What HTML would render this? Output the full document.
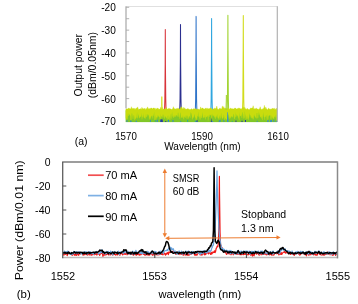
<!DOCTYPE html>
<html><head><meta charset="utf-8"><title>spectra</title>
<style>html,body{margin:0;padding:0;background:#fff;}body{width:358px;height:304px;overflow:hidden;font-family:"Liberation Sans",sans-serif;}svg{display:block;position:absolute;left:0;top:0;will-change:transform;}text{font-family:"Liberation Sans",sans-serif;fill:#000;}</style>
</head><body>
<svg width="358" height="304" viewBox="0 0 358 304">
<rect x="0" y="0" width="358" height="304" fill="#fff"/>
<path d="M164.5 112 L164.85 99 L165.18 64.6 L165.3 29.6 L165.42 64.6 L165.75 99 L166.1 112" fill="none" stroke="#d8343a" stroke-width="1.05" stroke-linejoin="round"/>
<path d="M179.7 112 L180.05 99 L180.38 59.6 L180.5 24.6 L180.62 59.6 L180.95 99 L181.3 112" fill="none" stroke="#2b2f8f" stroke-width="1.05" stroke-linejoin="round"/>
<path d="M195.3 112 L195.65 99 L195.98 51.4 L196.1 16.4 L196.22 51.4 L196.55 99 L196.9 112" fill="none" stroke="#2f74c9" stroke-width="1.05" stroke-linejoin="round"/>
<path d="M210.8 112 L211.15 99 L211.48 53.5 L211.6 18.5 L211.72 53.5 L212.05 99 L212.4 112" fill="none" stroke="#2fa6df" stroke-width="1.05" stroke-linejoin="round"/>
<path d="M227.1 112 L227.45 99 L227.78 50.2 L227.9 15.2 L228.02 50.2 L228.35 99 L228.7 112" fill="none" stroke="#a2d432" stroke-width="1.05" stroke-linejoin="round"/>
<path d="M242.5 112 L242.85 99 L243.18 50.6 L243.3 15.6 L243.42 50.6 L243.75 99 L244.1 112" fill="none" stroke="#d2dc1c" stroke-width="1.05" stroke-linejoin="round"/>
<path d="M125.8 110.56 L126.5 111.33 L127.2 110.33 L127.9 109.83 L128.6 109.98 L129.3 109.82 L130 109.54 L130.7 109.58 L131.4 110.13 L132.1 110.05 L132.8 110.21 L133.5 110.26 L134.2 109.62 L134.9 110.76 L135.6 111.16 L136.3 110.16 L137 110.21 L137.7 109.41 L138.4 110.47 L139.1 109.44 L139.8 109.42 L140.5 109.71 L141.2 109.76 L141.9 109.7 L142.6 110.86 L143.3 110.7 L144 110.4 L144.7 110.02 L145.4 110.78 L146.1 109.41 L146.8 109.46 L147.5 111.29 L148.2 111.08 L148.9 110.81 L149.6 111.02 L150.3 109.68 L151 110.99 L151.7 111.18 L152.4 111.18 L153.1 111.31 L153.8 110.08 L154.5 110.5 L155.2 110.1 L155.9 109.96 L156.6 109.58 L157.3 109.9 L158 109.62 L158.7 111.2 L159.4 109.59 L160.1 111.18 L160.8 110.67 L161.5 110.32 L162.2 111.01 L162.9 109.95 L163.6 110.5 L164.3 110.07 L165 109.98 L165.7 111.19 L166.4 109.51 L167.1 109.53 L167.8 109.64 L168.5 110.14 L169.2 110.73 L169.9 110.77 L170.6 110.73 L171.3 109.66 L172 110.04 L172.7 110.87 L173.4 110.27 L174.1 109.99 L174.8 109.5 L175.5 110.88 L176.2 110.73 L176.9 110.82 L177.6 110.95 L178.3 111.37 L179 109.52 L179.7 110.3 L180.4 110.63 L181.1 110.89 L181.8 109.52 L182.5 109.93 L183.2 110.78 L183.9 111 L184.6 110.86 L185.3 110.83 L186 109.93 L186.7 109.83 L187.4 109.59 L188.1 109.78 L188.8 110.86 L189.5 110.73 L190.2 110.3 L190.9 109.78 L191.6 110.83 L192.3 110.42 L193 110.59 L193.7 110.07 L194.4 111.21 L195.1 110.36 L195.8 109.62 L196.5 110.62 L197.2 111.39 L197.9 111.39 L198.6 109.67 L199.3 109.98 L200 111.37 L200.7 109.87 L201.4 110.18 L202.1 109.7 L202.8 111.24 L203.5 111.27 L204.2 109.46 L204.9 111.2 L205.6 109.8 L206.3 109.73 L207 111.25 L207.7 110.92 L208.4 109.78 L209.1 109.85 L209.8 109.47 L210.5 109.66 L211.2 110.72 L211.9 110.76 L212.6 110.98 L213.3 110.63 L214 111.1 L214.7 110.74 L215.4 110.72 L216.1 111.11 L216.8 111.29 L217.5 109.51 L218.2 109.65 L218.9 111.07 L219.6 109.77 L220.3 110.99 L221 109.94 L221.7 110.86 L222.4 109.97 L223.1 110.92 L223.8 110.38 L224.5 110.24 L225.2 109.49 L225.9 110.83 L226.6 110.79 L227.3 110.65 L228 109.67 L228.7 109.89 L229.4 110.29 L230.1 109.6 L230.8 109.6 L231.5 111.17 L232.2 111.03 L232.9 109.73 L233.6 110.97 L234.3 111.11 L235 110.42 L235.7 110.88 L236.4 111.22 L237.1 110.88 L237.8 109.43 L238.5 110.83 L239.2 110.52 L239.9 110.53 L240.6 111.36 L241.3 110.86 L242 109.68 L242.7 111.05 L243.4 109.69 L244.1 110.01 L244.8 109.72 L245.5 110.99 L246.2 111.01 L246.9 109.9 L247.6 109.41 L248.3 109.71 L249 111.17 L249.7 110.84 L250.4 109.89 L251.1 110.04 L251.8 110.56 L252.5 111.17 L253.2 110.04 L253.9 109.99 L254.6 111.28 L255.3 109.72 L256 110.83 L256.7 109.62 L257.4 111.17 L258.1 109.9 L258.8 111.25 L259.5 109.61 L260.2 110.76 L260.9 111.15 L261.6 109.75 L262.3 110.59 L263 111.24 L263.7 110.63 L264.4 109.81 L265.1 111.12 L265.8 110.96 L266.5 109.51 L267.2 110.83 L267.9 111.14 L268.6 110.79 L269.3 109.7 L270 109.75 L270.7 110.92 L271.4 109.87 L272.1 110.04 L272.8 110.28 L273.5 109.48 L274.2 110.38 L274.9 110.13 L275.6 111.34 L276.3 110.98 L277 110 L277 121.9 L276.3 121.9 L275.6 121.9 L274.9 121.9 L274.2 121.9 L273.5 121.9 L272.8 121.9 L272.1 121.9 L271.4 121.9 L270.7 121.9 L270 121.9 L269.3 121.9 L268.6 121.9 L267.9 121.9 L267.2 121.9 L266.5 121.9 L265.8 121.9 L265.1 121.9 L264.4 121.9 L263.7 121.9 L263 121.9 L262.3 121.9 L261.6 121.9 L260.9 121.9 L260.2 121.9 L259.5 121.9 L258.8 121.9 L258.1 121.9 L257.4 121.9 L256.7 121.9 L256 121.9 L255.3 121.9 L254.6 121.9 L253.9 121.9 L253.2 121.9 L252.5 121.9 L251.8 121.9 L251.1 121.9 L250.4 121.9 L249.7 121.9 L249 121.9 L248.3 121.9 L247.6 121.9 L246.9 121.9 L246.2 121.9 L245.5 121.9 L244.8 121.9 L244.1 121.9 L243.4 121.9 L242.7 121.9 L242 121.9 L241.3 121.9 L240.6 121.9 L239.9 121.9 L239.2 121.9 L238.5 121.9 L237.8 121.9 L237.1 121.9 L236.4 121.9 L235.7 121.9 L235 121.9 L234.3 121.9 L233.6 121.9 L232.9 121.9 L232.2 121.9 L231.5 121.9 L230.8 121.9 L230.1 121.9 L229.4 121.9 L228.7 121.9 L228 121.9 L227.3 121.9 L226.6 121.9 L225.9 121.9 L225.2 121.9 L224.5 121.9 L223.8 121.9 L223.1 121.9 L222.4 121.9 L221.7 121.9 L221 121.9 L220.3 121.9 L219.6 121.9 L218.9 121.9 L218.2 121.9 L217.5 121.9 L216.8 121.9 L216.1 121.9 L215.4 121.9 L214.7 121.9 L214 121.9 L213.3 121.9 L212.6 121.9 L211.9 121.9 L211.2 121.9 L210.5 121.9 L209.8 121.9 L209.1 121.9 L208.4 121.9 L207.7 121.9 L207 121.9 L206.3 121.9 L205.6 121.9 L204.9 121.9 L204.2 121.9 L203.5 121.9 L202.8 121.9 L202.1 121.9 L201.4 121.9 L200.7 121.9 L200 121.9 L199.3 121.9 L198.6 121.9 L197.9 121.9 L197.2 121.9 L196.5 121.9 L195.8 121.9 L195.1 121.9 L194.4 121.9 L193.7 121.9 L193 121.9 L192.3 121.9 L191.6 121.9 L190.9 121.9 L190.2 121.9 L189.5 121.9 L188.8 121.9 L188.1 121.9 L187.4 121.9 L186.7 121.9 L186 121.9 L185.3 121.9 L184.6 121.9 L183.9 121.9 L183.2 121.9 L182.5 121.9 L181.8 121.9 L181.1 121.9 L180.4 121.9 L179.7 121.9 L179 121.9 L178.3 121.9 L177.6 121.9 L176.9 121.9 L176.2 121.9 L175.5 121.9 L174.8 121.9 L174.1 121.9 L173.4 121.9 L172.7 121.9 L172 121.9 L171.3 121.9 L170.6 121.9 L169.9 121.9 L169.2 121.9 L168.5 121.9 L167.8 121.9 L167.1 121.9 L166.4 121.9 L165.7 121.9 L165 121.9 L164.3 121.9 L163.6 121.9 L162.9 121.9 L162.2 121.9 L161.5 121.9 L160.8 121.9 L160.1 121.9 L159.4 121.9 L158.7 121.9 L158 121.9 L157.3 121.9 L156.6 121.9 L155.9 121.9 L155.2 121.9 L154.5 121.9 L153.8 121.9 L153.1 121.9 L152.4 121.9 L151.7 121.9 L151 121.9 L150.3 121.9 L149.6 121.9 L148.9 121.9 L148.2 121.9 L147.5 121.9 L146.8 121.9 L146.1 121.9 L145.4 121.9 L144.7 121.9 L144 121.9 L143.3 121.9 L142.6 121.9 L141.9 121.9 L141.2 121.9 L140.5 121.9 L139.8 121.9 L139.1 121.9 L138.4 121.9 L137.7 121.9 L137 121.9 L136.3 121.9 L135.6 121.9 L134.9 121.9 L134.2 121.9 L133.5 121.9 L132.8 121.9 L132.1 121.9 L131.4 121.9 L130.7 121.9 L130 121.9 L129.3 121.9 L128.6 121.9 L127.9 121.9 L127.2 121.9 L126.5 121.9 L125.8 121.9 Z" fill="#82c828" stroke="#82c828" stroke-width="0.3" stroke-linejoin="round"/>
<path d="M219.94 122 v-1.89" stroke="#2f86d6" stroke-width="1.18" fill="none"/>
<path d="M267.87 122 v-1.89" stroke="#2f86d6" stroke-width="1.25" fill="none"/>
<path d="M130.85 122 v-1.56" stroke="#2f86d6" stroke-width="1.27" fill="none"/>
<path d="M223.85 122 v-2.08" stroke="#2f86d6" stroke-width="0.77" fill="none"/>
<path d="M196.86 122 v-1.3" stroke="#2f86d6" stroke-width="1.03" fill="none"/>
<path d="M212.59 122 v-1.02" stroke="#2f86d6" stroke-width="0.83" fill="none"/>
<path d="M168.42 122 v-2.1" stroke="#2f86d6" stroke-width="1.16" fill="none"/>
<path d="M150.44 122 v-1.96" stroke="#2f86d6" stroke-width="0.78" fill="none"/>
<path d="M219.12 122 v-1.15" stroke="#2f86d6" stroke-width="0.7" fill="none"/>
<path d="M257.21 122 v-1.25" stroke="#2f86d6" stroke-width="0.83" fill="none"/>
<path d="M273.86 122 v-2.05" stroke="#2f86d6" stroke-width="0.87" fill="none"/>
<path d="M270.72 122 v-1.65" stroke="#2f86d6" stroke-width="1.11" fill="none"/>
<path d="M157.22 122 v-2.13" stroke="#2f86d6" stroke-width="1.11" fill="none"/>
<path d="M271.48 122 v-2.07" stroke="#2f86d6" stroke-width="0.88" fill="none"/>
<path d="M180.68 122 v-1.2" stroke="#2f86d6" stroke-width="0.79" fill="none"/>
<path d="M136.27 122 v-1.36" stroke="#2f86d6" stroke-width="1.06" fill="none"/>
<path d="M127.01 122 v-1.81" stroke="#2f86d6" stroke-width="0.9" fill="none"/>
<path d="M172.99 122 v-1.98" stroke="#2f86d6" stroke-width="0.99" fill="none"/>
<path d="M245.5 122 v-1.99" stroke="#2b3a9f" stroke-width="0.99" fill="none"/>
<path d="M165.74 122 v-1" stroke="#2b3a9f" stroke-width="1.1" fill="none"/>
<path d="M197.04 122 v-1.91" stroke="#2b3a9f" stroke-width="0.92" fill="none"/>
<path d="M242.02 122 v-1.33" stroke="#2b3a9f" stroke-width="1.18" fill="none"/>
<path d="M235.97 122 v-1.5" stroke="#2b3a9f" stroke-width="1.02" fill="none"/>
<path d="M160.51 122 v-2.15" stroke="#27a7a0" stroke-width="0.78" fill="none"/>
<path d="M232.22 122 v-1.1" stroke="#27a7a0" stroke-width="0.85" fill="none"/>
<path d="M276.37 122 v-1.25" stroke="#27a7a0" stroke-width="1.09" fill="none"/>
<path d="M195.37 122 v-1.54" stroke="#27a7a0" stroke-width="1" fill="none"/>
<path d="M155.33 122 v-2" stroke="#27a7a0" stroke-width="0.75" fill="none"/>
<path d="M161.63 122 v-1.02" stroke="#27a7a0" stroke-width="0.86" fill="none"/>
<path d="M187.65 122 v-2.08" stroke="#27a7a0" stroke-width="0.93" fill="none"/>
<path d="M125.8 109.27 L126.5 108.64 L127.2 109.12 L127.9 108.67 L128.6 107.96 L129.3 108.26 L130 109 L130.7 108.84 L131.4 106.67 L132.1 109.19 L132.8 107.97 L133.5 108.36 L134.2 109.45 L134.9 107.98 L135.6 109.46 L136.3 107.97 L137 108.22 L137.7 106.84 L138.4 109.32 L139.1 109.67 L139.8 109.07 L140.5 108.43 L141.2 109.7 L141.9 107.3 L142.6 108.59 L143.3 108.93 L144 108.18 L144.7 108.53 L145.4 109.65 L146.1 107.93 L146.8 109.65 L147.5 106.84 L148.2 108.2 L148.9 109.12 L149.6 108.44 L150.3 108.39 L151 107.98 L151.7 107.93 L152.4 109.07 L153.1 107.96 L153.8 108.09 L154.5 108.01 L155.2 109.63 L155.9 107.91 L156.6 109.13 L157.3 108.27 L158 107.97 L158.7 109.26 L159.4 109.31 L160.1 109.1 L160.8 107.19 L161.5 109.02 L162.2 107.18 L162.9 109.59 L163.6 108.81 L164.3 109.15 L165 108.58 L165.7 108.92 L166.4 107.35 L167.1 108.98 L167.8 109.29 L168.5 108.59 L169.2 108.35 L169.9 109.04 L170.6 108.78 L171.3 109.61 L172 109.48 L172.7 108.56 L173.4 106.64 L174.1 108.89 L174.8 108.51 L175.5 109.23 L176.2 108.31 L176.9 109.13 L177.6 108.25 L178.3 108.25 L179 108.7 L179.7 109.15 L180.4 108.42 L181.1 106.63 L181.8 107.15 L182.5 109.28 L183.2 107.24 L183.9 108.93 L184.6 107.7 L185.3 108.9 L186 109.15 L186.7 109.25 L187.4 108.64 L188.1 108.52 L188.8 109.23 L189.5 109.43 L190.2 109.46 L190.9 109.55 L191.6 108.52 L192.3 109.57 L193 109.19 L193.7 108.5 L194.4 109.02 L195.1 108.7 L195.8 108.59 L196.5 109.64 L197.2 108.87 L197.9 109.25 L198.6 109.19 L199.3 109.4 L200 109.57 L200.7 106.87 L201.4 108.95 L202.1 107.91 L202.8 108.02 L203.5 108.79 L204.2 109.36 L204.9 108.58 L205.6 108.27 L206.3 107.94 L207 109.52 L207.7 108.01 L208.4 108.69 L209.1 108.82 L209.8 108.25 L210.5 107.93 L211.2 108.11 L211.9 109.45 L212.6 109.41 L213.3 109.01 L214 108.44 L214.7 108.14 L215.4 108.56 L216.1 108.28 L216.8 106.07 L217.5 108.96 L218.2 109.68 L218.9 109.03 L219.6 108.13 L220.3 108.14 L221 109.27 L221.7 108.46 L222.4 105.85 L223.1 108.22 L223.8 106.51 L224.5 108.53 L225.2 108.05 L225.9 108.59 L226.6 108.43 L227.3 108.27 L228 108.65 L228.7 107.91 L229.4 109.6 L230.1 108.33 L230.8 108.16 L231.5 108.64 L232.2 108.49 L232.9 109.04 L233.6 108.96 L234.3 108.18 L235 108.14 L235.7 108.12 L236.4 109.08 L237.1 108.97 L237.8 108.24 L238.5 108.14 L239.2 108.07 L239.9 108.59 L240.6 108.69 L241.3 109.23 L242 107.99 L242.7 107.95 L243.4 106.76 L244.1 108.46 L244.8 107.18 L245.5 108.66 L246.2 109.59 L246.9 108.55 L247.6 108.47 L248.3 109.45 L249 109.4 L249.7 109.46 L250.4 107.93 L251.1 108.23 L251.8 108.11 L252.5 108.07 L253.2 105.65 L253.9 109.25 L254.6 108.53 L255.3 108.92 L256 107.98 L256.7 108.45 L257.4 108.97 L258.1 108.93 L258.8 109.46 L259.5 108.78 L260.2 106.67 L260.9 109.1 L261.6 109.43 L262.3 109.14 L263 108.44 L263.7 108.62 L264.4 105.27 L265.1 109.05 L265.8 107.11 L266.5 108.83 L267.2 109.67 L267.9 109.16 L268.6 108.08 L269.3 108.65 L270 109.47 L270.7 108.98 L271.4 109.18 L272.1 108.24 L272.8 108.56 L273.5 108.66 L274.2 108.02 L274.9 109.6 L275.6 109.29 L276.3 108.07 L277 109.48 L277 114.11 L276.55 120.39 L276.1 115.12 L275.65 117.56 L275.2 114.66 L274.75 116.96 L274.3 116.46 L273.85 119.06 L273.4 117.94 L272.95 118.45 L272.5 116.09 L272.05 118.12 L271.6 114.89 L271.15 119.53 L270.7 118.41 L270.25 114.99 L269.8 115.56 L269.35 114.64 L268.9 116.1 L268.45 115.74 L268 119.41 L267.55 113.75 L267.1 120.6 L266.65 116.71 L266.2 114.74 L265.75 116.98 L265.3 115.18 L264.85 120.02 L264.4 117.33 L263.95 116.74 L263.5 114.87 L263.05 112.57 L262.6 120.21 L262.15 116.45 L261.7 118.62 L261.25 116.17 L260.8 117.33 L260.35 117.12 L259.9 115.73 L259.45 112.4 L259 114.98 L258.55 111.12 L258.1 117.88 L257.65 118.3 L257.2 112.95 L256.75 112.9 L256.3 118.57 L255.85 116.44 L255.4 117.71 L254.95 116.43 L254.5 115.89 L254.05 114.22 L253.6 118.04 L253.15 119.53 L252.7 117.37 L252.25 118.48 L251.8 116.27 L251.35 118.2 L250.9 117.28 L250.45 115.82 L250 114.81 L249.55 112.95 L249.1 116.66 L248.65 118.13 L248.2 119.96 L247.75 115.51 L247.3 118.92 L246.85 115.76 L246.4 118.13 L245.95 119.69 L245.5 113.56 L245.05 115.97 L244.6 118.34 L244.15 110.5 L243.7 118.68 L243.25 115.63 L242.8 112.59 L242.35 112.02 L241.9 118.1 L241.45 114.36 L241 115.45 L240.55 115.99 L240.1 116.21 L239.65 112.01 L239.2 120.3 L238.75 118.38 L238.3 117.8 L237.85 114.7 L237.4 115.96 L236.95 116.53 L236.5 113.82 L236.05 115.71 L235.6 117.25 L235.15 112.15 L234.7 118.89 L234.25 118.65 L233.8 113.67 L233.35 114.22 L232.9 117.35 L232.45 117.16 L232 115.81 L231.55 116.14 L231.1 117.08 L230.65 118.34 L230.2 116.73 L229.75 116.5 L229.3 118.74 L228.85 117.57 L228.4 114.03 L227.95 115.23 L227.5 115.21 L227.05 118.45 L226.6 119.71 L226.15 119.24 L225.7 117.92 L225.25 118.48 L224.8 120.32 L224.35 117.48 L223.9 114.55 L223.45 116.69 L223 118.28 L222.55 118.6 L222.1 118.36 L221.65 116.51 L221.2 113.09 L220.75 116.01 L220.3 118.51 L219.85 117.08 L219.4 114.85 L218.95 119.53 L218.5 117.47 L218.05 118.35 L217.6 113.38 L217.15 117.79 L216.7 114.88 L216.25 116.85 L215.8 116.86 L215.35 118.96 L214.9 115.52 L214.45 117.43 L214 116.52 L213.55 114.66 L213.1 116.01 L212.65 113.46 L212.2 115.93 L211.75 119.05 L211.3 114.21 L210.85 115.33 L210.4 115.04 L209.95 114.61 L209.5 115.61 L209.05 117.05 L208.6 115.02 L208.15 120.6 L207.7 115.41 L207.25 116.26 L206.8 116.81 L206.35 117.28 L205.9 115.88 L205.45 119.54 L205 114.52 L204.55 117.46 L204.1 116.93 L203.65 116.89 L203.2 118.18 L202.75 114.95 L202.3 112.03 L201.85 117.1 L201.4 118.13 L200.95 114.92 L200.5 117.4 L200.05 119.71 L199.6 117.81 L199.15 116.26 L198.7 116.75 L198.25 111.62 L197.8 115.88 L197.35 116.07 L196.9 118.64 L196.45 118.7 L196 120.59 L195.55 117.56 L195.1 117.4 L194.65 114.47 L194.2 114.54 L193.75 117.3 L193.3 117.47 L192.85 117.39 L192.4 119.43 L191.95 115.99 L191.5 113.8 L191.05 113.34 L190.6 111.87 L190.15 117.77 L189.7 115.9 L189.25 116.09 L188.8 116.89 L188.35 118.66 L187.9 116.04 L187.45 115.49 L187 118.97 L186.55 115.66 L186.1 115.46 L185.65 117.96 L185.2 115.36 L184.75 117.34 L184.3 115.93 L183.85 119.46 L183.4 117.87 L182.95 114.94 L182.5 117.56 L182.05 117.17 L181.6 117.17 L181.15 117.86 L180.7 112.24 L180.25 113.28 L179.8 118.83 L179.35 114.6 L178.9 117.1 L178.45 113.62 L178 112.13 L177.55 116.59 L177.1 115.46 L176.65 115.06 L176.2 115.5 L175.75 116.68 L175.3 114.76 L174.85 117.15 L174.4 114.86 L173.95 116.69 L173.5 117.9 L173.05 114.85 L172.6 116.63 L172.15 111.49 L171.7 118.73 L171.25 112.79 L170.8 114.83 L170.35 117.72 L169.9 120.05 L169.45 115.81 L169 118.75 L168.55 119.07 L168.1 115.37 L167.65 116.14 L167.2 119.86 L166.75 117.04 L166.3 118.28 L165.85 116.74 L165.4 116.11 L164.95 117.31 L164.5 118.69 L164.05 115.55 L163.6 114 L163.15 117.67 L162.7 117.34 L162.25 114.35 L161.8 116.63 L161.35 115.73 L160.9 118.8 L160.45 113.61 L160 119.54 L159.55 116.84 L159.1 116.88 L158.65 114.9 L158.2 116.65 L157.75 114.71 L157.3 117.57 L156.85 117.29 L156.4 117.44 L155.95 119.93 L155.5 117.94 L155.05 115.23 L154.6 120.07 L154.15 111.72 L153.7 115.87 L153.25 113.46 L152.8 118.62 L152.35 114.9 L151.9 116.62 L151.45 115.45 L151 116.3 L150.55 118.64 L150.1 116.44 L149.65 119.52 L149.2 117.4 L148.75 115.5 L148.3 115 L147.85 113.86 L147.4 115.02 L146.95 116.57 L146.5 117.23 L146.05 113.87 L145.6 117.28 L145.15 118.76 L144.7 117.28 L144.25 118.21 L143.8 116.79 L143.35 113.45 L142.9 117.34 L142.45 115.49 L142 119.39 L141.55 112.84 L141.1 115.91 L140.65 116.99 L140.2 116.01 L139.75 118.33 L139.3 117.68 L138.85 115.68 L138.4 113.59 L137.95 117.01 L137.5 118.35 L137.05 112.12 L136.6 117.78 L136.15 116.35 L135.7 119.04 L135.25 118.06 L134.8 120.23 L134.35 117.28 L133.9 114.82 L133.45 115.79 L133 119 L132.55 116.12 L132.1 113.13 L131.65 113.45 L131.2 120.19 L130.75 119.99 L130.3 115.86 L129.85 115.1 L129.4 113.89 L128.95 114.72 L128.5 116.01 L128.05 113.02 L127.6 117.65 L127.15 119.39 L126.7 117.24 L126.25 119.74 L125.8 117.79 Z" fill="#c9dc0e" stroke="#c9dc0e" stroke-width="0.3" stroke-linejoin="round"/>
<path d="M227.0 121.9 L227.4 112.5 L227.9 112 L228.6 121.9 Z" fill="#2f8fd6"/>
<path d="M160.3 121.9 L160.6 119.3 L162.6 119.6 L163 121.9 Z" fill="#2b3a9f"/>
<path d="M210.8 121.9 L211.2 117.5 L211.9 121.9 Z" fill="#2b3a9f"/>
<path d="M161.3 110 L161.8 96.6 L162.3 110" fill="none" stroke="#cfde1c" stroke-width="0.8"/>
<path d="M225.9 110 L226.4 95 L226.9 110" fill="none" stroke="#a4d233" stroke-width="0.8"/>
<path d="M125.5 6.5 L277.5 6.5" fill="none" stroke="#dcdcdc" stroke-width="0.9"/>
<path d="M277.3 6.2 L277.3 121.9" fill="none" stroke="#b2b2b2" stroke-width="1.2"/>
<path d="M126.0 6.5 L126.0 108.5" fill="none" stroke="#a3a3a3" stroke-width="1.15"/>
<path d="M126.0 7.3 h3.2" stroke="#a9a9a9" stroke-width="0.9" fill="none"/>
<path d="M126.0 18.71 h3.2" stroke="#a9a9a9" stroke-width="0.9" fill="none"/>
<path d="M126.0 30.13 h3.2" stroke="#a9a9a9" stroke-width="0.9" fill="none"/>
<path d="M126.0 41.54 h3.2" stroke="#a9a9a9" stroke-width="0.9" fill="none"/>
<path d="M126.0 52.96 h3.2" stroke="#a9a9a9" stroke-width="0.9" fill="none"/>
<path d="M126.0 64.38 h3.2" stroke="#a9a9a9" stroke-width="0.9" fill="none"/>
<path d="M126.0 75.79 h3.2" stroke="#a9a9a9" stroke-width="0.9" fill="none"/>
<path d="M126.0 87.2 h3.2" stroke="#a9a9a9" stroke-width="0.9" fill="none"/>
<path d="M126.0 98.62 h3.2" stroke="#a9a9a9" stroke-width="0.9" fill="none"/>
<text x="115.8" y="11.3" font-size="10" text-anchor="end" textLength="14.6" lengthAdjust="spacingAndGlyphs">-20</text>
<text x="115.8" y="34.13" font-size="10" text-anchor="end" textLength="14.6" lengthAdjust="spacingAndGlyphs">-30</text>
<text x="115.8" y="56.96" font-size="10" text-anchor="end" textLength="14.6" lengthAdjust="spacingAndGlyphs">-40</text>
<text x="115.8" y="79.79" font-size="10" text-anchor="end" textLength="14.6" lengthAdjust="spacingAndGlyphs">-50</text>
<text x="115.8" y="102.62" font-size="10" text-anchor="end" textLength="14.6" lengthAdjust="spacingAndGlyphs">-60</text>
<text x="115.8" y="125.45" font-size="10" text-anchor="end" textLength="14.6" lengthAdjust="spacingAndGlyphs">-70</text>
<text x="126" y="139.9" font-size="10" text-anchor="middle" textLength="21.6" lengthAdjust="spacingAndGlyphs">1570</text>
<text x="202" y="139.9" font-size="10" text-anchor="middle" textLength="21.6" lengthAdjust="spacingAndGlyphs">1590</text>
<text x="278" y="139.9" font-size="10" text-anchor="middle" textLength="21.6" lengthAdjust="spacingAndGlyphs">1610</text>
<text x="164.2" y="149.8" font-size="10" textLength="76.5" lengthAdjust="spacingAndGlyphs">Wavelength (nm)</text>
<text x="74.8" y="144.8" font-size="11.8" textLength="12.8" lengthAdjust="spacingAndGlyphs">(a)</text>
<text transform="translate(82.0 96.4) rotate(-90)" font-size="10" textLength="62.4" lengthAdjust="spacingAndGlyphs">Output power</text>
<text transform="translate(95.6 98.3) rotate(-90)" font-size="10" textLength="66.3" lengthAdjust="spacingAndGlyphs">(dBm/0.05nm)</text>
<path d="M63.3 253.75 L63.85 255.17 L64.4 253.92 L64.95 252.95 L65.5 254.29 L66.05 252.68 L66.6 252.67 L67.15 255.65 L67.7 254.36 L68.25 252.33 L68.8 252.97 L69.35 252.49 L69.9 253.72 L70.45 253.95 L71 253.9 L71.55 253.77 L72.1 255.39 L72.65 254.92 L73.2 253.34 L73.75 252.48 L74.3 254.94 L74.85 255.27 L75.4 252.4 L75.95 255.13 L76.5 255.34 L77.05 252.62 L77.6 254.73 L78.15 252.66 L78.7 255.29 L79.25 252.75 L79.8 253.32 L80.35 254.07 L80.9 252.97 L81.45 252.79 L82 252.75 L82.55 253.04 L83.1 255.31 L83.65 253.31 L84.2 253.03 L84.75 254.96 L85.3 252.7 L85.85 253.04 L86.4 254.71 L86.95 252.64 L87.5 255.07 L88.05 253.76 L88.6 253.85 L89.15 255 L89.7 252.86 L90.25 254.85 L90.8 252.97 L91.35 255.22 L91.9 255.25 L92.45 254.21 L93 253.37 L93.55 254.51 L94.1 254.87 L94.65 253.28 L95.2 253.72 L95.75 254.36 L96.3 252.62 L96.85 255.14 L97.4 252.6 L97.95 253.9 L98.5 254.11 L99.05 253.48 L99.6 255.34 L100.15 254.47 L100.7 251.98 L101.25 253.47 L101.8 252.5 L102.35 253.34 L102.9 256.41 L103.45 255.1 L104 254.51 L104.55 255.14 L105.1 254.45 L105.65 255.01 L106.2 254.77 L106.75 254.11 L107.3 253.54 L107.85 254.22 L108.4 254.31 L108.95 255.03 L109.5 253.56 L110.05 254.14 L110.6 254.91 L111.15 253.81 L111.7 253.09 L112.25 253.89 L112.8 255.16 L113.35 252.43 L113.9 254.43 L114.45 252.9 L115 254.37 L115.55 255.07 L116.1 254.39 L116.65 253.69 L117.2 255.14 L117.75 253.55 L118.3 253.34 L118.85 253.88 L119.4 254.94 L119.95 255.24 L120.5 252.9 L121.05 253.22 L121.6 253.64 L122.15 253.87 L122.7 254.91 L123.25 253.06 L123.8 254.22 L124.35 253.24 L124.9 254.34 L125.45 254.32 L126 252.96 L126.55 253.19 L127.1 254.78 L127.65 252.74 L128.2 254 L128.75 252.86 L129.3 253.82 L129.85 252.42 L130.4 254.53 L130.95 253.21 L131.5 254.48 L132.05 254.24 L132.6 253.57 L133.15 255.11 L133.7 255.19 L134.25 252.78 L134.8 254.27 L135.35 253.52 L135.9 255.03 L136.45 255.22 L137 254.34 L137.55 254.56 L138.1 254.32 L138.65 253.03 L139.2 255.33 L139.75 254 L140.3 253.35 L140.85 254.96 L141.4 252.64 L141.95 254.04 L142.5 253.05 L143.05 252.49 L143.6 254.45 L144.15 253.8 L144.7 255.09 L145.25 254.42 L145.8 255.03 L146.35 254.46 L146.9 253.71 L147.45 254.88 L148 252.88 L148.55 255.11 L149.1 254.4 L149.65 255 L150.2 253.3 L150.75 254.02 L151.3 253.88 L151.85 253.25 L152.4 255.29 L152.95 253.59 L153.5 254.07 L154.05 255.25 L154.6 255.26 L155.15 253.19 L155.7 252.77 L156.25 254.83 L156.8 253.81 L157.35 252.96 L157.9 255.16 L158.45 254.11 L159 252.42 L159.55 254.55 L160.1 253.88 L160.65 254.13 L161.2 254.25 L161.75 254.49 L162.3 252.45 L162.85 254.86 L163.4 253.99 L163.95 253.98 L164.5 253.02 L165.05 254.13 L165.6 255.11 L166.15 253.39 L166.7 254.11 L167.25 252.82 L167.8 252.71 L168.35 254.61 L168.9 251.95 L169.45 252.66 L170 252.58 L170.55 251.12 L171.1 252.51 L171.65 251.49 L172.2 252.06 L172.75 251.7 L173.3 250.79 L173.85 252.57 L174.4 252.53 L174.95 251.46 L175.5 253.83 L176.05 254.44 L176.6 252.1 L177.15 253.48 L177.7 253.2 L178.25 253.83 L178.8 253.04 L179.35 252.89 L179.9 254.57 L180.45 252.94 L181 252.83 L181.55 254.47 L182.1 254.24 L182.65 254.15 L183.2 255.3 L183.75 253.13 L184.3 254.58 L184.85 254.79 L185.4 255.04 L185.95 254.43 L186.5 254.64 L187.05 255.22 L187.6 252.64 L188.15 255.31 L188.7 252.48 L189.25 255.22 L189.8 252.98 L190.35 253.82 L190.9 254.43 L191.45 254.24 L192 253.09 L192.55 252.46 L193.1 253.44 L193.65 253.06 L194.2 253.95 L194.75 255.2 L195.3 255.28 L195.85 253.95 L196.4 255.1 L196.95 255.19 L197.5 253.9 L198.05 253.55 L198.6 253.11 L199.15 253.19 L199.7 253.69 L200.25 255.02 L200.8 253.55 L201.35 254.11 L201.9 255.27 L202.45 252.34 L203 254.2 L203.55 253.59 L204.1 252.87 L204.65 254.93 L205.2 253.5 L205.75 254.52 L206.3 252.39 L206.85 253.38 L207.4 252.13 L207.95 252.31 L208.5 253.89 L209.05 252.62 L209.6 253.03 L210.15 253.3 L210.7 254.48 L211.25 252.23 L211.8 254.07 L212.35 253.12 L212.9 251.88 L213.45 252.53 L214 252.45 L214.55 250.75 L215.1 252.64 L215.65 251.2 L216.2 248.43 L216.75 247.58 L217.3 246.08 L217.85 246.66 L218.4 242.69 L218.95 222.37 L219.4 176.4 L219.5 191.56 L220.05 232.62 L220.6 244.89 L221.15 245.77 L221.7 247.36 L222.25 248.01 L222.8 250.35 L223.35 251.6 L223.9 250.44 L224.45 252.07 L225 251.63 L225.55 252.22 L226.1 253.58 L226.65 254.42 L227.2 253.43 L227.75 252.47 L228.3 253.73 L228.85 252.16 L229.4 253.98 L229.95 252.21 L230.5 253.62 L231.05 254.77 L231.6 253.3 L232.15 252.94 L232.7 253.25 L233.25 254.76 L233.8 253.19 L234.35 253.21 L234.9 253.31 L235.45 253.85 L236 253.8 L236.55 253.88 L237.1 254.48 L237.65 252.18 L238.2 253.93 L238.75 254.19 L239.3 252.44 L239.85 254.62 L240.4 252.5 L240.95 254.96 L241.5 254.17 L242.05 254.52 L242.6 253.02 L243.15 254.59 L243.7 254.59 L244.25 253.31 L244.8 254.32 L245.35 253.92 L245.9 254.44 L246.45 253.55 L247 254.32 L247.55 254.74 L248.1 254.99 L248.65 254.25 L249.2 254.46 L249.75 253.6 L250.3 252.77 L250.85 255.31 L251.4 252.84 L251.95 253.62 L252.5 256.26 L253.05 253.26 L253.6 255.11 L254.15 255.74 L254.7 252.46 L255.25 252.9 L255.8 253.06 L256.35 254.14 L256.9 252.91 L257.45 252.87 L258 253.29 L258.55 254.81 L259.1 253.14 L259.65 255.1 L260.2 254 L260.75 253.81 L261.3 252.51 L261.85 254.77 L262.4 253.95 L262.95 253.19 L263.5 254.34 L264.05 252.4 L264.6 253.48 L265.15 254.51 L265.7 252.84 L266.25 253.34 L266.8 254.98 L267.35 254.28 L267.9 253.17 L268.45 252.83 L269 252.38 L269.55 254.91 L270.1 252.62 L270.65 254.53 L271.2 253.82 L271.75 255.24 L272.3 254.95 L272.85 254.75 L273.4 255.13 L273.95 254.86 L274.5 254.01 L275.05 252.85 L275.6 253.31 L276.15 252.61 L276.7 253.78 L277.25 253.46 L277.8 252.7 L278.35 253.76 L278.9 254.86 L279.45 252.4 L280 254.47 L280.55 253.99 L281.1 252.25 L281.65 254.5 L282.2 253.77 L282.75 252.81 L283.3 252.28 L283.85 252.23 L284.4 251.49 L284.95 252.63 L285.5 253.08 L286.05 252.36 L286.6 252.75 L287.15 250.9 L287.7 252.81 L288.25 251.66 L288.8 253.96 L289.35 252.01 L289.9 252.44 L290.45 254.5 L291 252.66 L291.55 252.75 L292.1 253.8 L292.65 254.24 L293.2 254.22 L293.75 254.75 L294.3 255.34 L294.85 253.17 L295.4 253.31 L295.95 254.06 L296.5 253.39 L297.05 252.7 L297.6 253.15 L298.15 253.29 L298.7 254.23 L299.25 254.11 L299.8 255.19 L300.35 254.51 L300.9 253.05 L301.45 252.8 L302 253.64 L302.55 252.67 L303.1 253.19 L303.65 253.75 L304.2 253.11 L304.75 254.65 L305.3 254.63 L305.85 253.4 L306.4 255.86 L306.95 254.11 L307.5 252.95 L308.05 251.57 L308.6 255.18 L309.15 252.81 L309.7 254.93 L310.25 254.24 L310.8 254.68 L311.35 254.21 L311.9 253.61 L312.45 252.79 L313 254.18 L313.55 254.76 L314.1 253.89 L314.65 253.43 L315.2 255.13 L315.75 253.61 L316.3 255.06 L316.85 255.11 L317.4 254.87 L317.95 252.74 L318.5 253.38 L319.05 252.95 L319.6 254.24 L320.15 253.52 L320.7 254.76 L321.25 255.03 L321.8 254.93 L322.35 255.01 L322.9 253.82 L323.45 255.12 L324 254.36 L324.55 255.03 L325.1 254.59 L325.65 253.5 L326.2 254.09 L326.75 254.34 L327.3 252.18 L327.85 254.01 L328.4 252.4 L328.95 253.29 L329.5 252.58 L330.05 254.84 L330.6 253.46 L331.15 253.25 L331.7 253.89 L332.25 255.33 L332.8 253.01 L333.35 255.16 L333.9 252.98 L334.45 253.46 L335 252.91 L335.55 255.38 L336.1 254.29 L336.65 254.32" fill="none" stroke="#f01818" stroke-width="1.2" stroke-linejoin="round" stroke-linecap="round"/>
<path d="M63.3 252.61 L63.85 253.26 L64.4 251.03 L64.95 251.93 L65.5 253.34 L66.05 252.89 L66.6 251.49 L67.15 251.55 L67.7 251.19 L68.25 251.25 L68.8 252.14 L69.35 252.78 L69.9 253.25 L70.45 254.36 L71 252.5 L71.55 254.3 L72.1 253.99 L72.65 254.31 L73.2 252.88 L73.75 251.28 L74.3 253.27 L74.85 253.07 L75.4 253.17 L75.95 251.65 L76.5 251.88 L77.05 253.94 L77.6 252.05 L78.15 252.13 L78.7 252.94 L79.25 251.6 L79.8 253.26 L80.35 252.45 L80.9 253.62 L81.45 252.86 L82 254.21 L82.55 253.04 L83.1 252.74 L83.65 252.15 L84.2 253.36 L84.75 251.81 L85.3 252.57 L85.85 251.61 L86.4 251.74 L86.95 254.21 L87.5 253.72 L88.05 253.7 L88.6 251.83 L89.15 252.22 L89.7 251.52 L90.25 253.99 L90.8 251.94 L91.35 253.66 L91.9 252.66 L92.45 253.32 L93 253.5 L93.55 254.25 L94.1 252.74 L94.65 253.39 L95.2 251.96 L95.75 253.31 L96.3 251.44 L96.85 252.42 L97.4 252.47 L97.95 252.89 L98.5 254.12 L99.05 253.56 L99.6 252.93 L100.15 253.45 L100.7 251.58 L101.25 252.39 L101.8 249.58 L102.35 252.66 L102.9 253.08 L103.45 252.34 L104 252.11 L104.55 252.15 L105.1 254.16 L105.65 252.83 L106.2 251.41 L106.75 253.37 L107.3 251.83 L107.85 252.09 L108.4 251.47 L108.95 252.05 L109.5 253.57 L110.05 254.17 L110.6 251.09 L111.15 252.5 L111.7 253.26 L112.25 251.8 L112.8 254.95 L113.35 253.87 L113.9 251.99 L114.45 251.49 L115 252.12 L115.55 252.31 L116.1 253.39 L116.65 252.87 L117.2 253.36 L117.75 252.76 L118.3 251.16 L118.85 252.93 L119.4 254.7 L119.95 253.14 L120.5 252.61 L121.05 251.44 L121.6 252.45 L122.15 252.37 L122.7 251.94 L123.25 253.65 L123.8 251.38 L124.35 250.76 L124.9 252.92 L125.45 251.16 L126 250.64 L126.55 251.39 L127.1 252.98 L127.65 253.33 L128.2 251.25 L128.75 253.98 L129.3 253.2 L129.85 253.42 L130.4 254.09 L130.95 253.9 L131.5 253.95 L132.05 253.91 L132.6 251.13 L133.15 251.65 L133.7 253.73 L134.25 254.32 L134.8 252.08 L135.35 252.68 L135.9 250.25 L136.45 252.7 L137 252.57 L137.55 252.3 L138.1 252.74 L138.65 251.93 L139.2 252.65 L139.75 253.33 L140.3 253.3 L140.85 252.36 L141.4 253.54 L141.95 250.62 L142.5 253.72 L143.05 253.23 L143.6 252.97 L144.15 253.12 L144.7 252.12 L145.25 253.8 L145.8 252.3 L146.35 252.72 L146.9 251.39 L147.45 251.44 L148 251.65 L148.55 252.46 L149.1 252.35 L149.65 252.99 L150.2 253.97 L150.75 252.14 L151.3 253.13 L151.85 251.19 L152.4 251.88 L152.95 253.82 L153.5 252.47 L154.05 252.14 L154.6 251.37 L155.15 252.64 L155.7 251.5 L156.25 251.91 L156.8 252.24 L157.35 254.08 L157.9 254.12 L158.45 254.16 L159 253.06 L159.55 251.44 L160.1 254.33 L160.65 251.1 L161.2 252.78 L161.75 252.74 L162.3 251.49 L162.85 251.22 L163.4 253.55 L163.95 250.99 L164.5 251.25 L165.05 250.79 L165.6 250.65 L166.15 250.6 L166.7 250.6 L167.25 249.58 L167.8 250.61 L168.35 248.86 L168.9 247.97 L169.45 248.44 L170 247.12 L170.55 247.44 L171.1 249.97 L171.65 247.85 L172.2 249.48 L172.75 249.64 L173.3 248.69 L173.85 250.72 L174.4 252.92 L174.95 252.27 L175.5 251.02 L176.05 253.66 L176.6 252.66 L177.15 254.15 L177.7 253.58 L178.25 251.62 L178.8 251.28 L179.35 251.03 L179.9 252.42 L180.45 252.67 L181 252.83 L181.55 251.1 L182.1 254.27 L182.65 253.76 L183.2 252.75 L183.75 252.43 L184.3 254.19 L184.85 253.03 L185.4 251.36 L185.95 251.12 L186.5 251.81 L187.05 251.88 L187.6 252.61 L188.15 251.12 L188.7 251 L189.25 254.11 L189.8 252.01 L190.35 253.63 L190.9 252.97 L191.45 254.09 L192 251.4 L192.55 253.72 L193.1 251.54 L193.65 253.02 L194.2 252.7 L194.75 253.31 L195.3 253.29 L195.85 253.29 L196.4 252.04 L196.95 251.01 L197.5 252.09 L198.05 252.58 L198.6 252.44 L199.15 253.69 L199.7 253.56 L200.25 254.42 L200.8 252.39 L201.35 253.54 L201.9 250.77 L202.45 252.5 L203 253.76 L203.55 251.49 L204.1 250.43 L204.65 251.49 L205.2 252.3 L205.75 251.14 L206.3 253.04 L206.85 251.99 L207.4 252.03 L207.95 252.36 L208.5 250.14 L209.05 251.07 L209.6 250.17 L210.15 251.87 L210.7 250.73 L211.25 250.44 L211.8 247.89 L212.35 247.25 L212.9 244.93 L213.45 245.24 L214 238.76 L214.55 236.4 L215.1 228.93 L215.65 216.43 L216.2 201.67 L216.75 183.49 L217 170.9 L217.3 186.45 L217.85 204.56 L218.4 217.44 L218.95 230.01 L219.5 236.21 L220.05 239.35 L220.6 244.06 L221.15 245.38 L221.7 248.53 L222.25 250.48 L222.8 248.31 L223.35 249.37 L223.9 251.76 L224.45 249.32 L225 251.42 L225.55 251.36 L226.1 250.9 L226.65 250.24 L227.2 250.59 L227.75 253.12 L228.3 251.9 L228.85 250.75 L229.4 252.93 L229.95 250.37 L230.5 253.61 L231.05 250.66 L231.6 253.46 L232.15 252.92 L232.7 252.74 L233.25 252.56 L233.8 253.55 L234.35 253.94 L234.9 253.85 L235.45 254.03 L236 251.59 L236.55 253.69 L237.1 253.31 L237.65 250.72 L238.2 250.75 L238.75 253.91 L239.3 253.69 L239.85 252.1 L240.4 253 L240.95 251.1 L241.5 251.33 L242.05 253.14 L242.6 253.62 L243.15 251.83 L243.7 250.99 L244.25 251.9 L244.8 251.9 L245.35 251.44 L245.9 251.08 L246.45 252.97 L247 250.88 L247.55 252.07 L248.1 252.04 L248.65 252.32 L249.2 251.08 L249.75 254.04 L250.3 254.23 L250.85 253.4 L251.4 251.26 L251.95 253.22 L252.5 251.39 L253.05 252.72 L253.6 251.62 L254.15 253.03 L254.7 251.19 L255.25 252.11 L255.8 251.38 L256.35 252.61 L256.9 251.55 L257.45 252.44 L258 251.14 L258.55 251.1 L259.1 253.54 L259.65 254.17 L260.2 252.37 L260.75 251.18 L261.3 251.07 L261.85 253.24 L262.4 251.14 L262.95 254.22 L263.5 252.91 L264.05 252.58 L264.6 252.91 L265.15 252.32 L265.7 252.94 L266.25 253.58 L266.8 253.4 L267.35 252.59 L267.9 252.35 L268.45 254.66 L269 253.95 L269.55 251.71 L270.1 252.35 L270.65 251.56 L271.2 252.13 L271.75 252.65 L272.3 254.1 L272.85 251.03 L273.4 251.31 L273.95 253.64 L274.5 253.39 L275.05 252.49 L275.6 252.49 L276.15 252.41 L276.7 252.72 L277.25 251.47 L277.8 250.9 L278.35 250.93 L278.9 253.47 L279.45 253.64 L280 252.73 L280.55 251.3 L281.1 249.48 L281.65 250.39 L282.2 248.51 L282.75 248.14 L283.3 248.92 L283.85 250.42 L284.4 249.93 L284.95 248.53 L285.5 250.19 L286.05 250.49 L286.6 250.98 L287.15 251.75 L287.7 250.56 L288.25 251.5 L288.8 251.15 L289.35 250.99 L289.9 252.34 L290.45 252.47 L291 252.71 L291.55 252.01 L292.1 251.01 L292.65 254 L293.2 253.02 L293.75 253.32 L294.3 253.54 L294.85 252.99 L295.4 253.86 L295.95 251.59 L296.5 252.25 L297.05 253.7 L297.6 251.33 L298.15 252.05 L298.7 252.33 L299.25 253.68 L299.8 253.58 L300.35 251.38 L300.9 251.44 L301.45 252.33 L302 253.42 L302.55 251.46 L303.1 251.76 L303.65 253.52 L304.2 252.97 L304.75 253.88 L305.3 252.96 L305.85 251.9 L306.4 253.28 L306.95 252.08 L307.5 254.03 L308.05 251.58 L308.6 253.88 L309.15 254.03 L309.7 251.97 L310.25 251.86 L310.8 251.49 L311.35 253.78 L311.9 253.51 L312.45 252.28 L313 254.38 L313.55 252.6 L314.1 253.21 L314.65 251.39 L315.2 251.46 L315.75 253.44 L316.3 252.64 L316.85 252.23 L317.4 253.21 L317.95 252.17 L318.5 251.03 L319.05 252.94 L319.6 251.08 L320.15 253.47 L320.7 252.83 L321.25 253.72 L321.8 253.29 L322.35 253.66 L322.9 252.46 L323.45 252.02 L324 251.64 L324.55 253.93 L325.1 253.3 L325.65 253.5 L326.2 253.34 L326.75 254.05 L327.3 253.37 L327.85 252.99 L328.4 252.09 L328.95 252.51 L329.5 251.79 L330.05 253.94 L330.6 252.3 L331.15 254.14 L331.7 252.57 L332.25 254.15 L332.8 253.29 L333.35 251.89 L333.9 252.97 L334.45 254.25 L335 253.35 L335.55 253.12 L336.1 253.96 L336.65 252.74" fill="none" stroke="#6aa5df" stroke-width="1.2" stroke-linejoin="round" stroke-linecap="round"/>
<path d="M63.3 252.56 L63.95 253.32 L64.6 252.43 L65.25 252.36 L65.9 253.41 L66.55 253.05 L67.2 252.62 L67.85 253.6 L68.5 252.12 L69.15 252.36 L69.8 253.55 L70.45 253.58 L71.1 253.8 L71.75 252.55 L72.4 252.97 L73.05 253.08 L73.7 252.52 L74.35 251.86 L75 252.37 L75.65 253.07 L76.3 252.86 L76.95 252.3 L77.6 252.89 L78.25 252.45 L78.9 252.55 L79.55 253.18 L80.2 252.33 L80.85 252.51 L81.5 252.44 L82.15 252.22 L82.8 253.81 L83.45 253.38 L84.1 252.17 L84.75 253.54 L85.4 253.24 L86.05 252.83 L86.7 253.68 L87.35 252.45 L88 252.76 L88.65 252.34 L89.3 253.17 L89.95 252.47 L90.6 253.13 L91.25 252.73 L91.9 252.7 L92.55 252.38 L93.2 252.29 L93.85 252.21 L94.5 253.09 L95.15 252.15 L95.8 252.69 L96.45 252.04 L97.1 252.16 L97.75 252.21 L98.4 251.48 L99.05 251.44 L99.7 250.14 L100.35 250.49 L101 250.32 L101.65 250.8 L102.3 250.19 L102.95 252.41 L103.6 251.8 L104.25 253.25 L104.9 252.99 L105.55 252.47 L106.2 252.44 L106.85 252.15 L107.5 252.24 L108.15 253.8 L108.8 252.95 L109.45 252.68 L110.1 252.87 L110.75 253.64 L111.4 253.57 L112.05 252.63 L112.7 252.14 L113.35 252.73 L114 253.66 L114.65 252.16 L115.3 252.31 L115.95 252.66 L116.6 253.06 L117.25 252.09 L117.9 253.64 L118.55 252.94 L119.2 252.69 L119.85 252.42 L120.5 253.14 L121.15 252.67 L121.8 252.15 L122.45 251.89 L123.1 251.7 L123.75 249.72 L124.4 250.65 L125.05 249.88 L125.7 250.41 L126.35 250.08 L127 252.48 L127.65 253.44 L128.3 252.65 L128.95 253.51 L129.6 252.58 L130.25 252.27 L130.9 253.87 L131.55 252.56 L132.2 252.01 L132.85 252.57 L133.5 253.86 L134.15 253.79 L134.8 252.35 L135.45 253.51 L136.1 252.34 L136.75 253.77 L137.4 253.38 L138.05 252.54 L138.7 252.54 L139.35 251.22 L140 250.75 L140.65 251 L141.3 249.59 L141.95 251.02 L142.6 249.72 L143.25 251.65 L143.9 251.43 L144.55 252.59 L145.2 252.53 L145.85 251.68 L146.5 254.1 L147.15 253.68 L147.8 253.15 L148.45 253.84 L149.1 254.11 L149.75 253.69 L150.4 253.31 L151.05 252.59 L151.7 251.8 L152.35 251 L153 251.49 L153.65 252.75 L154.3 253.59 L154.95 253.51 L155.6 253.08 L156.25 253.73 L156.9 253.76 L157.55 253.25 L158.2 253.27 L158.85 252.18 L159.5 252.77 L160.15 253.4 L160.8 252.71 L161.45 252.74 L162.1 251.48 L162.75 250.9 L163.4 250.06 L164.05 248.29 L164.7 246.48 L165.35 245.66 L166 242.42 L166.65 241.42 L167.3 241.8 L167.95 242.57 L168.6 244.44 L169.25 247.43 L169.9 249.49 L170.55 251.05 L171.2 252.34 L171.85 251.51 L172.5 252.67 L173.15 253.3 L173.8 253.22 L174.45 252.73 L175.1 252.48 L175.75 252.97 L176.4 252.48 L177.05 252.14 L177.7 252.25 L178.35 253.7 L179 253.41 L179.65 252.5 L180.3 252.74 L180.95 253.2 L181.6 252.69 L182.25 252.34 L182.9 253.13 L183.55 252.09 L184.2 253.37 L184.85 252.65 L185.5 251.88 L186.15 252.31 L186.8 254.22 L187.45 252.48 L188.1 252.1 L188.75 252.13 L189.4 251.91 L190.05 252.57 L190.7 252.51 L191.35 252.04 L192 253.18 L192.65 252.43 L193.3 252.41 L193.95 252.1 L194.6 253.36 L195.25 251.7 L195.9 251.76 L196.55 252.46 L197.2 251.75 L197.85 251.52 L198.5 251.44 L199.15 251.41 L199.8 252.03 L200.45 251.53 L201.1 251.82 L201.75 251.8 L202.4 252.25 L203.05 251.46 L203.7 251.79 L204.35 252 L205 251.05 L205.65 251.52 L206.3 251.37 L206.95 251.01 L207.6 249.62 L208.25 249.18 L208.9 247.67 L209.55 247.86 L210.2 245.86 L210.85 246.07 L211.5 243.1 L212.15 242.59 L212.8 241.45 L213.45 230.53 L214.1 168.6 L214.1 167.73 L214.75 229.63 L215.4 241.45 L216.05 242.17 L216.7 243.35 L217.35 242.31 L218 240.35 L218.65 241.06 L219.3 242.21 L219.95 247.21 L220.6 249.27 L221.25 249.88 L221.9 249.91 L222.55 250.38 L223.2 251.62 L223.85 252.31 L224.5 250.91 L225.15 251.2 L225.8 251.7 L226.45 251.2 L227.1 251.53 L227.75 252.66 L228.4 252.56 L229.05 251.72 L229.7 252.36 L230.35 251.73 L231 251.93 L231.65 252.78 L232.3 251.82 L232.95 251.83 L233.6 252.3 L234.25 252.86 L234.9 252.01 L235.55 253.3 L236.2 253.02 L236.85 253 L237.5 251.81 L238.15 250.6 L238.8 251.62 L239.45 253.02 L240.1 253.52 L240.75 253.86 L241.4 252.37 L242.05 252.62 L242.7 252.23 L243.35 253.4 L244 251.46 L244.65 252.04 L245.3 252.29 L245.95 253.03 L246.6 251.95 L247.25 251.97 L247.9 252.53 L248.55 253.29 L249.2 252.73 L249.85 252.2 L250.5 252.05 L251.15 253.32 L251.8 253.19 L252.45 253.54 L253.1 252.35 L253.75 253.07 L254.4 253.42 L255.05 252.71 L255.7 251.48 L256.35 252.46 L257 252.99 L257.65 252.25 L258.3 252.72 L258.95 252.58 L259.6 253.26 L260.25 252.42 L260.9 252.89 L261.55 252.14 L262.2 252.41 L262.85 253.72 L263.5 252.18 L264.15 252.82 L264.8 250.88 L265.45 250.15 L266.1 250.64 L266.75 251.47 L267.4 251.41 L268.05 252.08 L268.7 254.07 L269.35 253.08 L270 252.97 L270.65 252.24 L271.3 253.67 L271.95 253.51 L272.6 252.23 L273.25 252.27 L273.9 252.76 L274.55 252.97 L275.2 253.03 L275.85 252.77 L276.5 252.52 L277.15 252.18 L277.8 253.08 L278.45 251.38 L279.1 251.77 L279.75 249.75 L280.4 248.74 L281.05 248.26 L281.7 249 L282.35 247.69 L283 247.44 L283.65 248.98 L284.3 249.35 L284.95 249.59 L285.6 250.65 L286.25 251.09 L286.9 251.45 L287.55 252.02 L288.2 253.26 L288.85 253.72 L289.5 253.01 L290.15 252.2 L290.8 253.16 L291.45 253.48 L292.1 252.6 L292.75 253.1 L293.4 253.7 L294.05 253.16 L294.7 253.62 L295.35 252.87 L296 253.46 L296.65 253.16 L297.3 253.02 L297.95 252.64 L298.6 252.35 L299.25 253.07 L299.9 252.45 L300.55 253.53 L301.2 253.44 L301.85 252.85 L302.5 252.77 L303.15 252.17 L303.8 252.99 L304.45 253.81 L305.1 252.68 L305.75 254.28 L306.4 252.17 L307.05 253.28 L307.7 252.21 L308.35 252.31 L309 251.32 L309.65 252.99 L310.3 252.62 L310.95 253.13 L311.6 253.32 L312.25 252.78 L312.9 253.72 L313.55 253.49 L314.2 253.02 L314.85 252.27 L315.5 252.7 L316.15 252.16 L316.8 252.58 L317.45 253.2 L318.1 252.46 L318.75 251.56 L319.4 252.32 L320.05 253.81 L320.7 252.93 L321.35 252.36 L322 253.34 L322.65 253.72 L323.3 253.25 L323.95 253.78 L324.6 253.03 L325.25 253.02 L325.9 252.78 L326.55 252.92 L327.2 252.48 L327.85 252.93 L328.5 253.61 L329.15 253.23 L329.8 252.67 L330.45 252.7 L331.1 253.1 L331.75 253.01 L332.4 253.01 L333.05 252.46 L333.7 253.43 L334.35 252.79 L335 253.61 L335.65 253.14 L336.3 252.67 L336.95 252.19" fill="none" stroke="#000000" stroke-width="1.5" stroke-linejoin="round" stroke-linecap="round"/>
<path d="M62.7 257.5 L337.5 257.5" fill="none" stroke="#bdbdbd" stroke-width="1.6"/>
<path d="M62.1 162.0 L337.5 162.0" fill="none" stroke="#7c7c7c" stroke-width="1.35"/>
<path d="M62.7 258.2 L62.7 162.0" fill="none" stroke="#5e5e5e" stroke-width="1.3"/>
<path d="M337.5 161.4 L337.5 258.4" fill="none" stroke="#8a8a8a" stroke-width="1.5"/>
<path d="M62.7 186 h3.6" stroke="#555" stroke-width="1" fill="none"/>
<path d="M62.7 210 h3.6" stroke="#555" stroke-width="1" fill="none"/>
<path d="M62.7 234 h3.6" stroke="#555" stroke-width="1" fill="none"/>
<path d="M154.8 258.0 v-4.2" stroke="#444" stroke-width="1" fill="none"/>
<path d="M246.4 258.0 v-4.2" stroke="#444" stroke-width="1" fill="none"/>
<path d="M164.8 171 L164.8 235" stroke="#ed7d31" stroke-width="1" fill="none"/>
<path d="M164.8 168.6 L167 173 L162.6 173 Z" fill="#ed7d31"/>
<path d="M164.8 237.4 L167 233.2 L162.6 233.2 Z" fill="#ed7d31"/>
<path d="M168 238.3 L278 237.5" stroke="#ed7d31" stroke-width="1" fill="none"/>
<path d="M165.1 238.3 L169.3 236.1 L169.3 240.5 Z" fill="#ed7d31"/>
<path d="M280.6 237.4 L276.5 235.2 L276.5 239.6 Z" fill="#ed7d31"/>
<path d="M88 175.2 L103.7 175.2" stroke="#f24e50" stroke-width="1.7" fill="none"/>
<path d="M88 195.6 L103.7 195.6" stroke="#7eb0e4" stroke-width="1.7" fill="none"/>
<path d="M88 216.3 L103.7 216.3" stroke="#000" stroke-width="1.7" fill="none"/>
<text x="105.2" y="179.3" font-size="10.8" textLength="32" lengthAdjust="spacingAndGlyphs">70 mA</text>
<text x="105.2" y="199.9" font-size="10.8" textLength="32" lengthAdjust="spacingAndGlyphs">80 mA</text>
<text x="105.2" y="220.6" font-size="10.8" textLength="32" lengthAdjust="spacingAndGlyphs">90 mA</text>
<text x="172.8" y="181.9" font-size="10.3" textLength="26.6" lengthAdjust="spacingAndGlyphs">SMSR</text>
<text x="172.8" y="195.4" font-size="10.3" textLength="26.6" lengthAdjust="spacingAndGlyphs">60 dB</text>
<text x="241.1" y="217.5" font-size="10.3" textLength="45.1" lengthAdjust="spacingAndGlyphs">Stopband</text>
<text x="241.1" y="231.5" font-size="10.3" textLength="32.5" lengthAdjust="spacingAndGlyphs">1.3 nm</text>
<text x="50.5" y="165.9" font-size="10.8" text-anchor="end" textLength="5.8" lengthAdjust="spacingAndGlyphs">0</text>
<text x="50.5" y="189.9" font-size="10.8" text-anchor="end" textLength="15.4" lengthAdjust="spacingAndGlyphs">-20</text>
<text x="50.5" y="213.9" font-size="10.8" text-anchor="end" textLength="15.4" lengthAdjust="spacingAndGlyphs">-40</text>
<text x="50.5" y="237.9" font-size="10.8" text-anchor="end" textLength="15.4" lengthAdjust="spacingAndGlyphs">-60</text>
<text x="50.5" y="261.9" font-size="10.8" text-anchor="end" textLength="15.4" lengthAdjust="spacingAndGlyphs">-80</text>
<text x="63" y="279.5" font-size="10.8" text-anchor="middle" textLength="24.5" lengthAdjust="spacingAndGlyphs">1552</text>
<text x="154.6" y="279.5" font-size="10.8" text-anchor="middle" textLength="24.5" lengthAdjust="spacingAndGlyphs">1553</text>
<text x="246.2" y="279.5" font-size="10.8" text-anchor="middle" textLength="24.5" lengthAdjust="spacingAndGlyphs">1554</text>
<text x="337.8" y="279.5" font-size="10.8" text-anchor="middle" textLength="24.5" lengthAdjust="spacingAndGlyphs">1555</text>
<text x="158.5" y="297.9" font-size="10.8" textLength="82.8" lengthAdjust="spacingAndGlyphs">wavelength (nm)</text>
<text x="16.8" y="298.3" font-size="10.8" textLength="14" lengthAdjust="spacingAndGlyphs">(b)</text>
<text transform="translate(23.4 280.3) rotate(-90)" font-size="10.8" textLength="120" lengthAdjust="spacingAndGlyphs">Power (dBm/0.01 nm)</text>
</svg></body></html>
